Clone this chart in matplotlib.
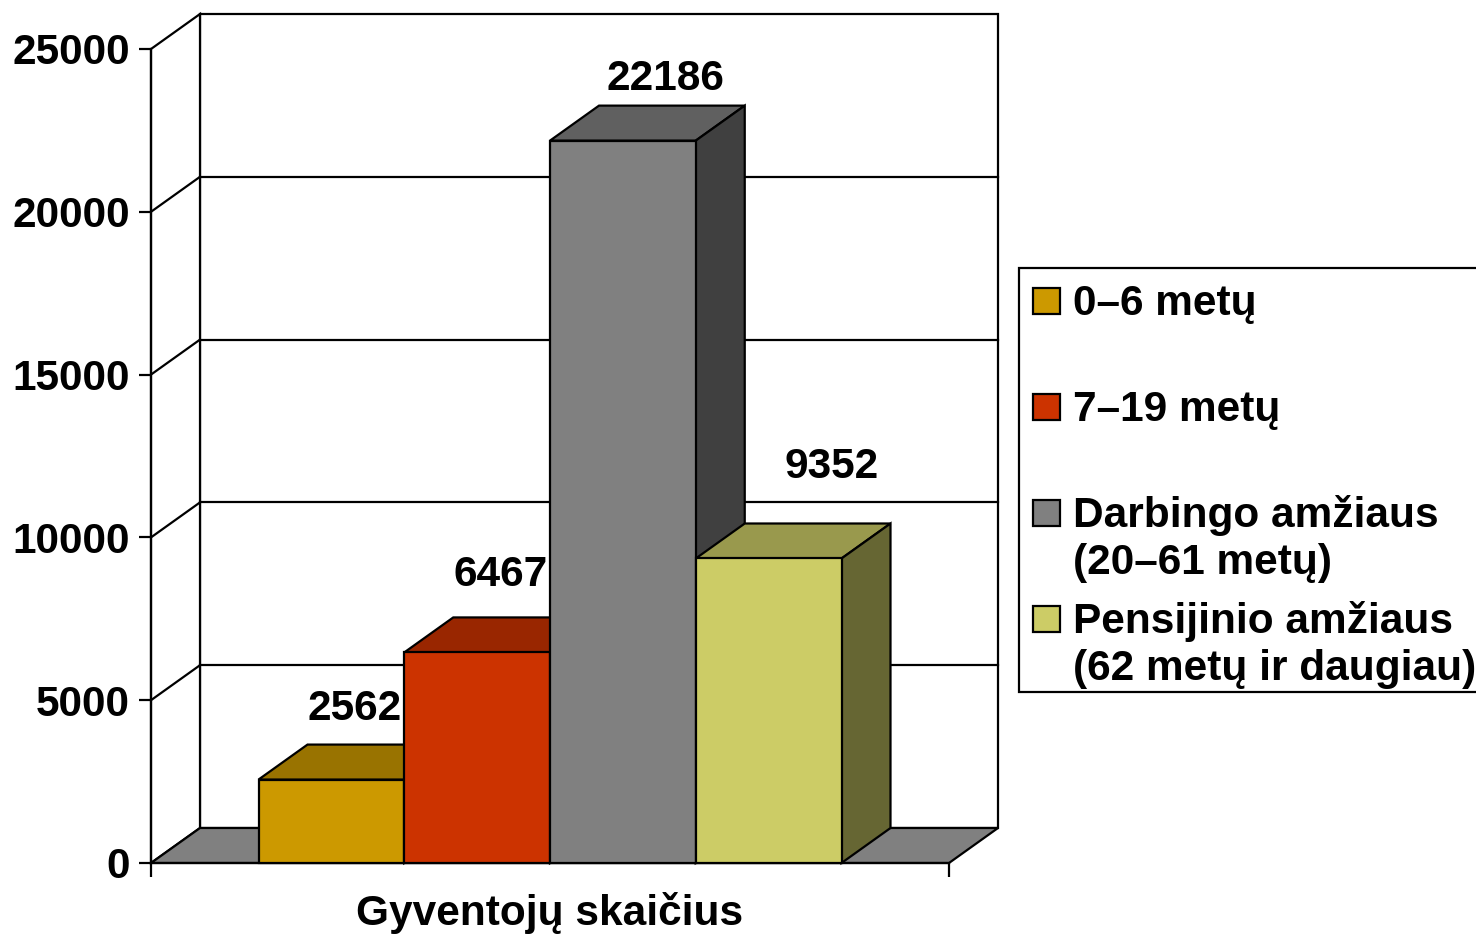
import matplotlib
matplotlib.use("Agg")
import matplotlib.pyplot as plt
from matplotlib.patches import Polygon, Rectangle
import numpy as np

plt.rcParams['font.family'] = ['Liberation Sans', 'DejaVu Sans']
plt.rcParams['font.weight'] = 'bold'

# data
category = "Gyventojų skaičius"
series = ["0–6 metų", "7–19 metų", "Darbingo amžiaus\n(20–61 metų)",
          "Pensijinio amžiaus\n(62 metų ir daugiau)"]
values = [2562, 6467, 22186, 9352]
y_ticks = [0, 5000, 10000, 15000, 20000, 25000]
colors = ['#CC9900', '#CC3300', '#808080', '#CCCC66']

# label nudges (pixels), Excel puts them a bit unevenly
label_dx = [-1, -1, 18, 38]
label_dy = [53, 60, 44, 74]

W, H = 1476, 935
FS = 30.5
LW = 1.6

fig = plt.figure(figsize=(W / 100, H / 100), dpi=100)
ax_w, ax_h = 798, 814
ax = fig.add_axes([151 / W, (H - 863) / H, ax_w / W, ax_h / H])
ax.set_xlim(0, 1)
ax.set_ylim(0, 25000)
ax.patch.set_alpha(0)

# depth of the fake 3d box, in data units
dx = 49 / ax_w
dy = 35 * 25000 / ax_h


def shade(c, f):
    rgb = np.array(matplotlib.colors.to_rgb(c)) * f
    return tuple(rgb)


# back wall, left wall, floor
ax.add_patch(Rectangle((dx, dy), 1, 25000, facecolor='white', edgecolor='black',
                       lw=LW, clip_on=False, zorder=1))
ax.add_patch(Polygon([(0, 0), (dx, dy), (dx, 25000 + dy), (0, 25000)],
                     facecolor='white', edgecolor='black', lw=LW, clip_on=False, zorder=1))
ax.add_patch(Polygon([(0, 0), (1, 0), (1 + dx, dy), (dx, dy)],
                     facecolor='#808080', edgecolor='black', lw=LW, clip_on=False, zorder=2))

for v in y_ticks[1:-1]:
    ax.plot([dx, 1 + dx], [v + dy, v + dy], color='black', lw=LW, clip_on=False, zorder=2)
    ax.plot([0, dx], [v, v + dy], color='black', lw=LW, clip_on=False, zorder=2)

# bars
n = len(values)
bw = 583 / 4 / ax_w
xs = 0.5 + (np.arange(n) - (n - 1) / 2) * bw
bars = ax.bar(xs, values, bw, color=colors, edgecolor='black', lw=LW, clip_on=False)

for i, (b, v, c) in enumerate(zip(bars, values, colors)):
    x0 = b.get_x()
    x1 = x0 + bw
    base = 10 + 3 * i
    top = Polygon([(x0, v), (x1, v), (x1 + dx, v + dy), (x0 + dx, v + dy)],
                  facecolor=shade(c, 0.75), edgecolor='black', lw=LW,
                  clip_on=False, zorder=base)
    side = Polygon([(x1, 0), (x1 + dx, dy), (x1 + dx, v + dy), (x1, v)],
                   facecolor=shade(c, 0.5), edgecolor='black', lw=LW,
                   clip_on=False, zorder=base + 1)
    ax.add_patch(top)
    ax.add_patch(side)
    b.set_zorder(base + 2)
    ax.annotate(str(v), xy=(xs[i] + dx / 2, v + dy / 2),
                xytext=(label_dx[i], label_dy[i]), textcoords='offset pixels',
                ha='center', va='center', fontsize=FS, fontweight='bold',
                zorder=30, annotation_clip=False)

# axes
for s in ['top', 'right']:
    ax.spines[s].set_visible(False)
ax.spines['left'].set_linewidth(LW)
ax.spines['bottom'].set_linewidth(LW)
ax.spines['left'].set_zorder(3)
ax.spines['bottom'].set_zorder(3)
ax.set_yticks(y_ticks)
ax.set_yticklabels([str(t) for t in y_ticks], fontsize=FS, fontweight='bold')
ax.tick_params(axis='y', length=9, width=LW, pad=6)
ax.set_xticks([0, 1])
ax.set_xticklabels(['', ''])
ax.tick_params(axis='x', length=10, width=LW)

fig.text(550 / W, (H - 925) / H, category, ha='center', va='baseline',
         fontsize=FS, fontweight='bold')

# legend drawn by hand in pixel space
ov = fig.add_axes([0, 0, 1, 1])
ov.set_xlim(0, W)
ov.set_ylim(H, 0)
ov.axis('off')
ov.patch.set_alpha(0)
ov.add_patch(Rectangle((1019, 268), 480, 424, facecolor='white', edgecolor='black', lw=LW))
for i, (name, c) in enumerate(zip(series, colors)):
    cy = 301 + 106 * i
    ov.add_patch(Rectangle((1033, cy - 13), 27, 26, facecolor=c, edgecolor='black', lw=LW))
    for j, line in enumerate(name.split('\n')):
        ov.text(1073, cy + 14 + 47 * j, line, ha='left', va='baseline',
                fontsize=FS, fontweight='bold')

fig.savefig('out.png', dpi=100)
